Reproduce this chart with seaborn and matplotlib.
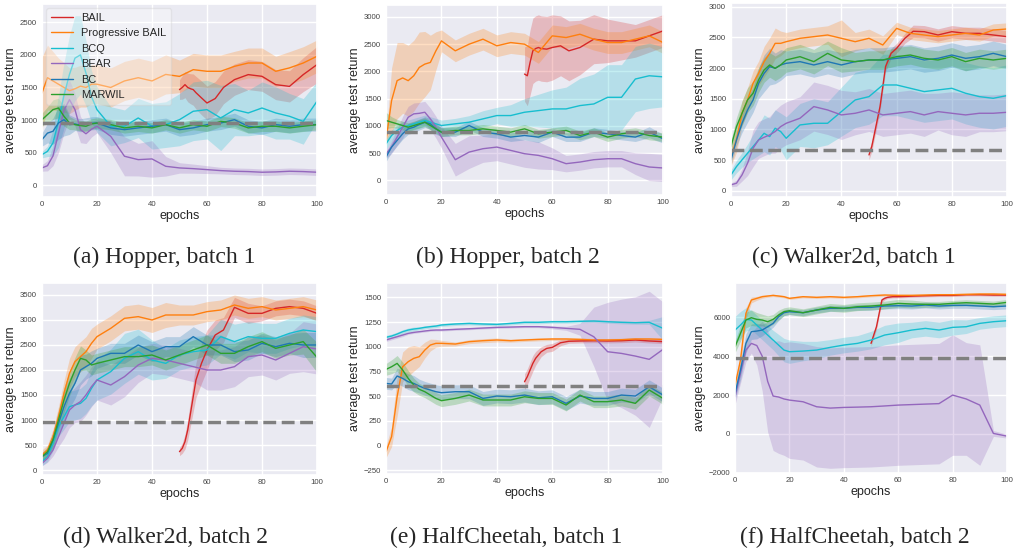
"""Offline RL benchmark curves: BAIL vs baselines on six MuJoCo batches."""

import matplotlib

matplotlib.use("Agg")
import matplotlib.pyplot as plt
import pandas as pd
import seaborn as sns
from matplotlib.ticker import MultipleLocator

METHODS = ["BAIL", "Progressive BAIL", "BCQ", "BEAR", "BC", "MARWIL"]
COLORS = ["#d62728", "#ff7f0e", "#17becf", "#9467bd", "#1f77b4", "#2ca02c"]

EPOCHS = [0, 2, 4, 6, 8, 10, 12, 14, 16, 18, 20, 25, 30, 35, 40, 45, 50,
          55, 60, 65, 70, 75, 80, 85, 90, 95, 100]
BAIL_EPOCHS = [50, 51, 52, 53, 54, 55, 56, 58, 60, 63, 66, 70, 75, 80, 85,
               90, 95, 100]

# (a) Hopper, batch 1
HOP1_BAIL = [1467, 1500, 1543, 1500, 1480, 1467, 1420, 1340, 1262, 1330, 1500,
             1620, 1697, 1671, 1543, 1517, 1697, 1850]
HOP1_BAIL_SD = [150, 180, 200, 220, 230, 240, 250, 260, 260, 260, 250, 240,
                230, 230, 230, 240, 260, 280]
HOP1_PBAIL = [1415, 1650, 1600, 1550, 1500, 1450, 1480, 1520, 1500, 1550, 1550,
              1500, 1600, 1650, 1600, 1700, 1670, 1773, 1748, 1748, 1824, 1875,
              1875, 1748, 1800, 1875, 1978]
HOP1_PBAIL_SD = [550, 500, 450, 400, 380, 350, 330, 320, 300, 300, 300, 300,
                 300, 300, 300, 300, 250, 250, 250, 250, 230, 230, 230, 230,
                 250, 250, 250]
HOP1_BCQ = [470, 520, 650, 980, 1380, 1700, 1950, 2000, 1720, 1360, 1160, 905,
            905, 1032, 905, 930, 1006, 1135, 1160, 1032, 1160, 1109, 1185, 1109,
            1058, 980, 1288]
HOP1_BCQ_SD = [50, 80, 200, 400, 500, 600, 650, 600, 500, 400, 350, 300, 250,
               300, 350, 350, 400, 450, 450, 500, 400, 350, 400, 400, 350, 350,
               300]
HOP1_BEAR = [266, 300, 450, 800, 1150, 1313, 1160, 853, 790, 860, 905, 751,
             445, 393, 404, 291, 266, 255, 240, 225, 215, 210, 200, 205, 215,
             210, 200]
HOP1_BEAR_SD = [50, 80, 150, 300, 350, 300, 250, 200, 150, 120, 100, 250, 300,
                250, 280, 150, 80, 70, 60, 50, 50, 50, 50, 50, 50, 50, 50]
HOP1_BC = [700, 800, 828, 955, 1006, 930, 940, 920, 935, 950, 955, 880, 853,
           880, 905, 930, 853, 880, 930, 955, 1006, 905, 880, 930, 905, 930,
           930]
HOP1_BC_SD = [100, 150, 200, 250, 250, 150, 100, 100, 100, 100, 100, 100, 100,
              100, 100, 100, 100, 100, 100, 100, 100, 100, 100, 100, 100, 100,
              100]
HOP1_MARWIL = [1006, 1083, 1160, 1185, 1058, 955, 930, 915, 905, 940, 955, 930,
               880, 905, 880, 930, 880, 930, 905, 980, 955, 880, 905, 905, 880,
               905, 930]
HOP1_MARWIL_SD = [100, 120, 150, 150, 150, 100, 80, 80, 80, 80, 80, 80, 80, 80,
                  80, 80, 80, 80, 80, 80, 80, 80, 80, 80, 80, 80, 80]
HOP1_BEHAVIOR = 960

# (b) Hopper, batch 2
HOP2_BAIL = [1951, 1920, 2165, 2378, 2420, 2439, 2420, 2409, 2439, 2470, 2378,
             2439, 2592, 2561, 2561, 2561, 2653, 2744]
HOP2_BAIL_SD = [500, 550, 600, 600, 600, 600, 600, 600, 600, 550, 550, 500,
                450, 400, 350, 300, 300, 300]
HOP2_PBAIL = [732, 1463, 1830, 1880, 1830, 1920, 2073, 2134, 2165, 2378, 2561,
              2378, 2500, 2592, 2470, 2530, 2500, 2348, 2653, 2622, 2683, 2592,
              2530, 2530, 2592, 2653, 2530]
HOP2_PBAIL_SD = [50, 600, 700, 650, 650, 650, 650, 600, 500, 350, 200, 200,
                 200, 200, 200, 200, 200, 200, 200, 200, 200, 200, 200, 200,
                 200, 200, 200]
HOP2_BCQ = [670, 823, 915, 975, 1006, 1037, 1067, 1098, 1067, 1037, 1006, 1037,
            1067, 1128, 1189, 1189, 1250, 1280, 1311, 1311, 1372, 1402, 1524,
            1524, 1860, 1920, 1900]
HOP2_BCQ_SD = [100, 100, 100, 100, 100, 100, 100, 100, 100, 100, 100, 100, 120,
               150, 150, 200, 250, 300, 350, 400, 500, 550, 600, 600, 600, 600,
               550]
HOP2_BEAR = [488, 610, 793, 975, 1158, 1220, 1230, 1250, 1128, 975, 793, 378,
             518, 580, 610, 549, 488, 457, 396, 305, 335, 378, 396, 396, 305,
             244, 226]
HOP2_BEAR_SD = [80, 120, 150, 200, 200, 200, 200, 200, 200, 200, 200, 300, 300,
                250, 250, 250, 250, 250, 200, 150, 150, 150, 150, 150, 200, 250,
                250]
HOP2_BC = [427, 610, 732, 854, 945, 975, 1024, 1067, 1037, 945, 884, 884, 1006,
           884, 854, 793, 823, 793, 884, 793, 793, 884, 854, 823, 793, 884, 762]
HOP2_BC_SD = [80, 100, 100, 100, 100, 100, 100, 100, 100, 100, 80, 80, 80, 80,
              80, 80, 80, 100, 80, 80, 80, 80, 80, 80, 80, 100, 80]
HOP2_MARWIL = [1098, 1067, 1037, 1006, 975, 1006, 1037, 1067, 1006, 945, 884,
               915, 915, 945, 915, 884, 945, 854, 884, 915, 823, 884, 793, 854,
               884, 823, 793]
HOP2_MARWIL_SD = [150, 100, 80, 80, 80, 80, 80, 80, 80, 80, 80, 80, 80, 80, 80,
                  80, 80, 80, 80, 80, 80, 80, 80, 80, 80, 80, 80]
HOP2_BEHAVIOR = 878

# (c) Walker2d, batch 1
WLK1_BAIL = [586, 722, 938, 1156, 1373, 1698, 2024, 2240, 2322, 2485, 2600,
             2593, 2539, 2593, 2566, 2566, 2539, 2512]
WLK1_BAIL_SD = [80, 80, 80, 80, 80, 80, 80, 80, 80, 80, 100, 100, 100, 100,
                100, 100, 100, 100]
WLK1_PBAIL = [559, 830, 1264, 1481, 1752, 1915, 2105, 2240, 2403, 2403, 2430,
              2485, 2512, 2539, 2485, 2430, 2485, 2376, 2647, 2566, 2539, 2512,
              2539, 2566, 2539, 2620, 2637]
WLK1_PBAIL_SD = [150, 200, 200, 200, 200, 200, 250, 250, 250, 200, 150, 150,
                 150, 150, 300, 150, 150, 150, 100, 100, 100, 100, 100, 100,
                 100, 100, 100]
WLK1_BCQ = [260, 396, 505, 613, 722, 830, 938, 884, 1020, 966, 857, 1074, 1101,
            1101, 1291, 1481, 1535, 1725, 1725, 1671, 1617, 1644, 1671, 1590,
            1535, 1508, 1552]
WLK1_BCQ_SD = [80, 100, 120, 150, 200, 250, 300, 300, 300, 300, 350, 350, 400,
               350, 400, 450, 450, 500, 500, 500, 500, 500, 500, 500, 500, 500,
               500]
WLK1_BEAR = [98, 125, 260, 450, 694, 830, 873, 911, 966, 1047, 1101, 1183,
             1373, 1318, 1237, 1264, 1318, 1237, 1264, 1291, 1237, 1291, 1264,
             1237, 1264, 1264, 1280]
WLK1_BEAR_SD = [30, 50, 100, 200, 300, 300, 300, 300, 350, 350, 350, 350, 400,
                400, 400, 350, 350, 350, 350, 350, 350, 300, 350, 350, 300,
                300, 300]
WLK1_BC = [505, 830, 1101, 1318, 1481, 1752, 1915, 2024, 1996, 2051, 2078,
           2105, 2051, 2105, 2051, 2105, 2132, 2132, 2159, 2186, 2132, 2159,
           2213, 2159, 2186, 2240, 2186]
WLK1_BC_SD = [80, 100, 150, 200, 200, 250, 300, 300, 250, 250, 200, 200, 200,
              200, 200, 200, 200, 200, 200, 200, 200, 200, 200, 200, 200, 200,
              200]
WLK1_MARWIL = [722, 1047, 1264, 1481, 1590, 1807, 1969, 2051, 1996, 2051, 2132,
               2186, 2105, 2240, 2132, 2105, 2132, 2132, 2186, 2213, 2159, 2132,
               2186, 2105, 2159, 2132, 2159]
WLK1_MARWIL_SD = [100, 150, 200, 200, 200, 200, 200, 200, 200, 200, 200, 200,
                  200, 200, 200, 150, 150, 150, 150, 150, 150, 150, 150, 150,
                  150, 150, 150]
WLK1_BEHAVIOR = 667

# (d) Walker2d, batch 2
WLK2_BAIL = [367, 433, 567, 800, 1133, 1467, 1800, 2133, 2400, 2700, 2800,
             3253, 3133, 3133, 3233, 3267, 3233, 3133]
WLK2_BAIL_SD = [80, 100, 150, 200, 250, 300, 350, 400, 400, 300, 250, 200, 200,
                150, 150, 150, 150, 150]
WLK2_PBAIL = [300, 400, 667, 1067, 1533, 1933, 2167, 2267, 2367, 2533, 2667,
              2833, 3033, 3067, 3000, 3100, 3100, 3100, 3167, 3200, 3300, 3233,
              3267, 3200, 3233, 3267, 3200]
WLK2_PBAIL_SD = [100, 100, 150, 200, 250, 300, 300, 300, 300, 300, 250, 250,
                 250, 250, 250, 250, 200, 200, 200, 200, 200, 200, 200, 200,
                 200, 200, 200]
WLK2_BCQ = [167, 267, 533, 867, 1067, 1267, 1300, 1333, 1433, 1633, 1800, 1967,
            2233, 2367, 2200, 2133, 2300, 2367, 2400, 2667, 2567, 2667, 2633,
            2633, 2733, 2800, 2767]
WLK2_BCQ_SD = [80, 100, 150, 200, 250, 300, 300, 300, 300, 350, 400, 450, 500,
               450, 400, 300, 300, 300, 300, 350, 350, 300, 300, 300, 300, 300,
               300]
WLK2_BEAR = [133, 233, 400, 667, 933, 1200, 1300, 1367, 1500, 1667, 1800, 1700,
             1867, 2100, 2233, 2200, 2133, 2067, 2000, 2000, 2067, 2267, 2300,
             2200, 2333, 2467, 2420]
WLK2_BEAR_SD = [50, 80, 120, 200, 300, 350, 350, 400, 400, 400, 400, 400, 400,
                350, 300, 300, 300, 300, 400, 400, 400, 400, 400, 400, 400, 500,
                500]
WLK2_BC = [267, 333, 600, 933, 1267, 1533, 1733, 2000, 2067, 2133, 2233, 2333,
           2333, 2500, 2367, 2467, 2467, 2667, 2500, 2500, 2367, 2400, 2533,
           2467, 2533, 2500, 2500]
WLK2_BC_SD = [80, 100, 150, 200, 300, 300, 300, 300, 250, 250, 200, 200, 200,
              200, 200, 200, 200, 200, 200, 200, 200, 200, 200, 200, 200, 250,
              250]
WLK2_MARWIL = [267, 367, 600, 1000, 1400, 1733, 2000, 2233, 2200, 2100, 2133,
               2200, 2267, 2267, 2300, 2200, 2300, 2400, 2500, 2333, 2333, 2467,
               2567, 2433, 2500, 2567, 2253]
WLK2_MARWIL_SD = [80, 100, 150, 200, 250, 250, 250, 250, 200, 200, 200, 200,
                  200, 200, 200, 200, 200, 200, 200, 200, 200, 200, 200, 200,
                  200, 250, 300]
WLK2_BEHAVIOR = 953

# (e) HalfCheetah, batch 1
HC1_BAIL = [645, 696, 764, 831, 882, 916, 949, 983, 993, 1040, 1055, 1058,
            1061, 1058, 1061, 1068, 1058, 1051]
HC1_BAIL_SD = [80, 80, 80, 80, 70, 60, 50, 40, 40, 30, 20, 20, 20, 20, 20, 20,
               20, 20]
HC1_PBAIL = [-64, 88, 493, 797, 848, 882, 899, 966, 1017, 1034, 1034, 1027,
             1051, 1061, 1068, 1061, 1068, 1074, 1078, 1078, 1074, 1068, 1068,
             1071, 1078, 1078, 1074]
HC1_PBAIL_SD = [60, 100, 200, 150, 150, 130, 100, 80, 60, 40, 30, 20, 20, 20,
                20, 15, 15, 15, 15, 15, 15, 15, 15, 15, 15, 15, 15]
HC1_BCQ = [1095, 1108, 1128, 1152, 1169, 1179, 1186, 1196, 1203, 1209, 1220,
           1230, 1236, 1230, 1226, 1236, 1247, 1247, 1253, 1253, 1257, 1260,
           1253, 1247, 1243, 1247, 1186]
HC1_BCQ_SD = [20, 20, 20, 20, 20, 20, 15, 15, 15, 15, 15, 15, 15, 15, 15, 15,
              15, 15, 15, 15, 15, 15, 15, 15, 15, 20, 120]
HC1_BEAR = [1068, 1085, 1101, 1118, 1135, 1145, 1152, 1159, 1166, 1169, 1169,
            1176, 1182, 1189, 1196, 1199, 1203, 1203, 1196, 1186, 1176, 1101,
            949, 932, 905, 872, 973]
HC1_BEAR_SD = [15, 15, 15, 15, 10, 10, 10, 10, 10, 10, 10, 10, 10, 10, 10, 10,
               10, 10, 15, 20, 60, 300, 500, 550, 600, 690, 480]
HC1_BC = [628, 622, 703, 679, 645, 628, 601, 578, 561, 544, 534, 544, 544, 476,
          500, 493, 510, 483, 493, 426, 500, 476, 476, 510, 500, 594, 510]
HC1_BC_SD = [60, 60, 80, 80, 80, 80, 70, 70, 70, 70, 70, 70, 70, 70, 70, 70,
             70, 70, 70, 70, 70, 70, 70, 70, 70, 70, 70]
HC1_MARWIL = [770, 797, 831, 764, 679, 612, 568, 544, 510, 476, 453, 476, 510,
              460, 460, 460, 493, 476, 476, 409, 510, 443, 443, 460, 426, 561,
              476]
HC1_MARWIL_SD = [60, 70, 80, 80, 80, 70, 60, 60, 60, 60, 60, 60, 60, 60, 60,
                 60, 60, 60, 60, 60, 60, 60, 60, 60, 60, 60, 60]
HC1_BEHAVIOR = 605

# (f) HalfCheetah, batch 2
HC2_BAIL = [4661, 5090, 5519, 6206, 6893, 6979, 7030, 7065, 7065, 7080, 7099,
            7116, 7133, 7133, 7168, 7168, 7150, 7150]
HC2_BAIL_SD = [150, 150, 150, 120, 100, 80, 60, 60, 60, 60, 60, 60, 60, 60, 60,
               60, 60, 60]
HC2_PBAIL = [2515, 3802, 6206, 6893, 6979, 7065, 7099, 7133, 7099, 7065, 6979,
             7065, 7030, 7065, 7030, 7065, 7116, 7150, 7133, 7133, 7150, 7168,
             7168, 7185, 7202, 7202, 7185]
HC2_PBAIL_SD = [100, 300, 300, 150, 100, 80, 60, 60, 60, 60, 60, 60, 60, 60,
                60, 60, 60, 60, 60, 60, 60, 60, 60, 60, 60, 60, 60]
HC2_BCQ = [5348, 5605, 5897, 5863, 5605, 5348, 5090, 4832, 4575, 4317, 4232,
           4266, 4317, 4455, 4575, 4661, 4832, 5090, 5210, 5348, 5433, 5348,
           5485, 5519, 5691, 5777, 5828]
HC2_BCQ_SD = [700, 700, 600, 500, 500, 500, 500, 500, 550, 600, 600, 500, 450,
              400, 400, 400, 450, 500, 500, 400, 400, 400, 400, 350, 300, 300,
              300]
HC2_BEAR = [1914, 3115, 4317, 4661, 4550, 4000, 2700, 1950, 1900, 1800, 1742,
            1656, 1399, 1330, 1364, 1380, 1399, 1440, 1485, 1510, 1536, 1560,
            2000, 1800, 1485, 25, -113]
HC2_BEAR_SD = [400, 500, 600, 500, 1000, 1800, 2600, 2800, 2900, 2900, 3000,
               3000, 3100, 3100, 3100, 3100, 3100, 3100, 3100, 3100, 3100,
               3100, 3100, 2900, 3100, 150, 100]
HC2_BC = [2085, 3287, 4661, 5262, 5296, 5348, 5519, 5691, 6034, 6240, 6292,
          6240, 6378, 6464, 6464, 6515, 6515, 6584, 6601, 6584, 6635, 6584,
          6618, 6618, 6584, 6549, 6584]
HC2_BC_SD = [300, 500, 500, 400, 400, 300, 250, 200, 200, 150, 150, 150, 150,
             150, 150, 150, 150, 150, 150, 150, 150, 150, 150, 150, 150, 150,
             150]
HC2_MARWIL = [4489, 5176, 5863, 5983, 5897, 5863, 5777, 5897, 6120, 6292, 6343,
              6240, 6378, 6515, 6464, 6549, 6584, 6635, 6721, 6687, 6670, 6670,
              6721, 6755, 6721, 6687, 6773]
HC2_MARWIL_SD = [300, 400, 400, 400, 350, 300, 300, 250, 250, 200, 200, 200,
                 200, 200, 200, 200, 200, 200, 200, 200, 150, 150, 150, 150,
                 150, 150, 150]
HC2_BEHAVIOR = 3920

CAPTIONS = ["(a) Hopper, batch 1", "(b) Hopper, batch 2", "(c) Walker2d, batch 1",
            "(d) Walker2d, batch 2", "(e) HalfCheetah, batch 1",
            "(f) HalfCheetah, batch 2"]
Y_LIMITS = [(-180, 2780), (-270, 3220), (-100, 3060), (-100, 3740),
            (-290, 1645), (-2010, 7770)]
Y_STEPS = [500, 500, 500, 500, 250, 2000]

# axes rectangles in figure fractions, measured off the layout
AX_RECTS = [
    (0.0414, 0.6405, 0.2712, 0.3522),
    (0.3807, 0.6442, 0.2732, 0.3467),
    (0.7209, 0.6405, 0.2722, 0.3540),
    (0.0414, 0.1332, 0.2712, 0.3504),
    (0.3807, 0.1350, 0.2732, 0.3485),
    (0.7249, 0.1369, 0.2682, 0.3467),
]
CAPTION_POS = [(0.162, 0.520), (0.501, 0.520), (0.842, 0.520),
               (0.163, 0.009), (0.499, 0.009), (0.843, 0.009)]


def panel_frame(bail, pbail, bcq, bear, bc, marwil) -> pd.DataFrame:
    """Long table of (epoch, method, mean, sd) for one panel."""
    rows = []
    series = [bail, pbail, bcq, bear, bc, marwil]
    for method, (mean, sd) in zip(METHODS, series):
        xs = BAIL_EPOCHS if method == "BAIL" else EPOCHS
        for x, m, s in zip(xs, mean, sd):
            rows.append({"epoch": x, "method": method, "mean": m, "sd": s})
    return pd.DataFrame(rows)


def draw_panel(ax, df, behavior, ylim, ystep, show_legend):
    for method, color in zip(METHODS, COLORS):
        sub = df[df["method"] == method]
        ax.fill_between(sub["epoch"], sub["mean"] - sub["sd"],
                        sub["mean"] + sub["sd"], color=color, alpha=0.25, lw=0)
    sns.lineplot(data=df, x="epoch", y="mean", hue="method", hue_order=METHODS,
                 palette=COLORS, lw=1.0, ax=ax, legend=show_legend,
                 errorbar=None)
    ax.axhline(behavior, color="gray", ls="--", lw=2.5)
    ax.set_xlim(0, 100)
    ax.set_ylim(*ylim)
    ax.xaxis.set_major_locator(MultipleLocator(20))
    ax.yaxis.set_major_locator(MultipleLocator(ystep))
    ax.tick_params(axis="y", labelsize=5.6, length=0, pad=3.5,
                   labelcolor="#444444")
    ax.tick_params(axis="x", labelsize=5.6, length=0, pad=3,
                   labelcolor="#444444")
    ax.set_xlabel("epochs", fontsize=9, labelpad=1)
    ax.set_ylabel("average test return", fontsize=9, labelpad=2)
    if show_legend:
        handles, labels = ax.get_legend_handles_labels()
        ax.legend(handles, labels, loc="upper left", fontsize=7.9,
                  borderaxespad=0.4, facecolor="white", framealpha=0.35)


def main() -> None:
    sns.set_theme(style="darkgrid")
    plt.rcParams["font.family"] = ["Liberation Sans", "DejaVu Sans"]

    frames = [
        (panel_frame((HOP1_BAIL, HOP1_BAIL_SD), (HOP1_PBAIL, HOP1_PBAIL_SD),
                     (HOP1_BCQ, HOP1_BCQ_SD), (HOP1_BEAR, HOP1_BEAR_SD),
                     (HOP1_BC, HOP1_BC_SD), (HOP1_MARWIL, HOP1_MARWIL_SD)),
         HOP1_BEHAVIOR),
        (panel_frame((HOP2_BAIL, HOP2_BAIL_SD), (HOP2_PBAIL, HOP2_PBAIL_SD),
                     (HOP2_BCQ, HOP2_BCQ_SD), (HOP2_BEAR, HOP2_BEAR_SD),
                     (HOP2_BC, HOP2_BC_SD), (HOP2_MARWIL, HOP2_MARWIL_SD)),
         HOP2_BEHAVIOR),
        (panel_frame((WLK1_BAIL, WLK1_BAIL_SD), (WLK1_PBAIL, WLK1_PBAIL_SD),
                     (WLK1_BCQ, WLK1_BCQ_SD), (WLK1_BEAR, WLK1_BEAR_SD),
                     (WLK1_BC, WLK1_BC_SD), (WLK1_MARWIL, WLK1_MARWIL_SD)),
         WLK1_BEHAVIOR),
        (panel_frame((WLK2_BAIL, WLK2_BAIL_SD), (WLK2_PBAIL, WLK2_PBAIL_SD),
                     (WLK2_BCQ, WLK2_BCQ_SD), (WLK2_BEAR, WLK2_BEAR_SD),
                     (WLK2_BC, WLK2_BC_SD), (WLK2_MARWIL, WLK2_MARWIL_SD)),
         WLK2_BEHAVIOR),
        (panel_frame((HC1_BAIL, HC1_BAIL_SD), (HC1_PBAIL, HC1_PBAIL_SD),
                     (HC1_BCQ, HC1_BCQ_SD), (HC1_BEAR, HC1_BEAR_SD),
                     (HC1_BC, HC1_BC_SD), (HC1_MARWIL, HC1_MARWIL_SD)),
         HC1_BEHAVIOR),
        (panel_frame((HC2_BAIL, HC2_BAIL_SD), (HC2_PBAIL, HC2_PBAIL_SD),
                     (HC2_BCQ, HC2_BCQ_SD), (HC2_BEAR, HC2_BEAR_SD),
                     (HC2_BC, HC2_BC_SD), (HC2_MARWIL, HC2_MARWIL_SD)),
         HC2_BEHAVIOR),
    ]

    fig = plt.figure(figsize=(10.14, 5.48), dpi=100)
    for i, (df, behavior) in enumerate(frames):
        ax = fig.add_axes(AX_RECTS[i])
        draw_panel(ax, df, behavior, Y_LIMITS[i], Y_STEPS[i], show_legend=(i == 0))
        cx, cy = CAPTION_POS[i]
        fig.text(cx, cy, CAPTIONS[i], ha="center", va="baseline",
                 fontsize=17, family=["Liberation Serif", "DejaVu Serif"])

    fig.savefig("out.png", dpi=100)
    plt.close(fig)


if __name__ == "__main__":
    main()
